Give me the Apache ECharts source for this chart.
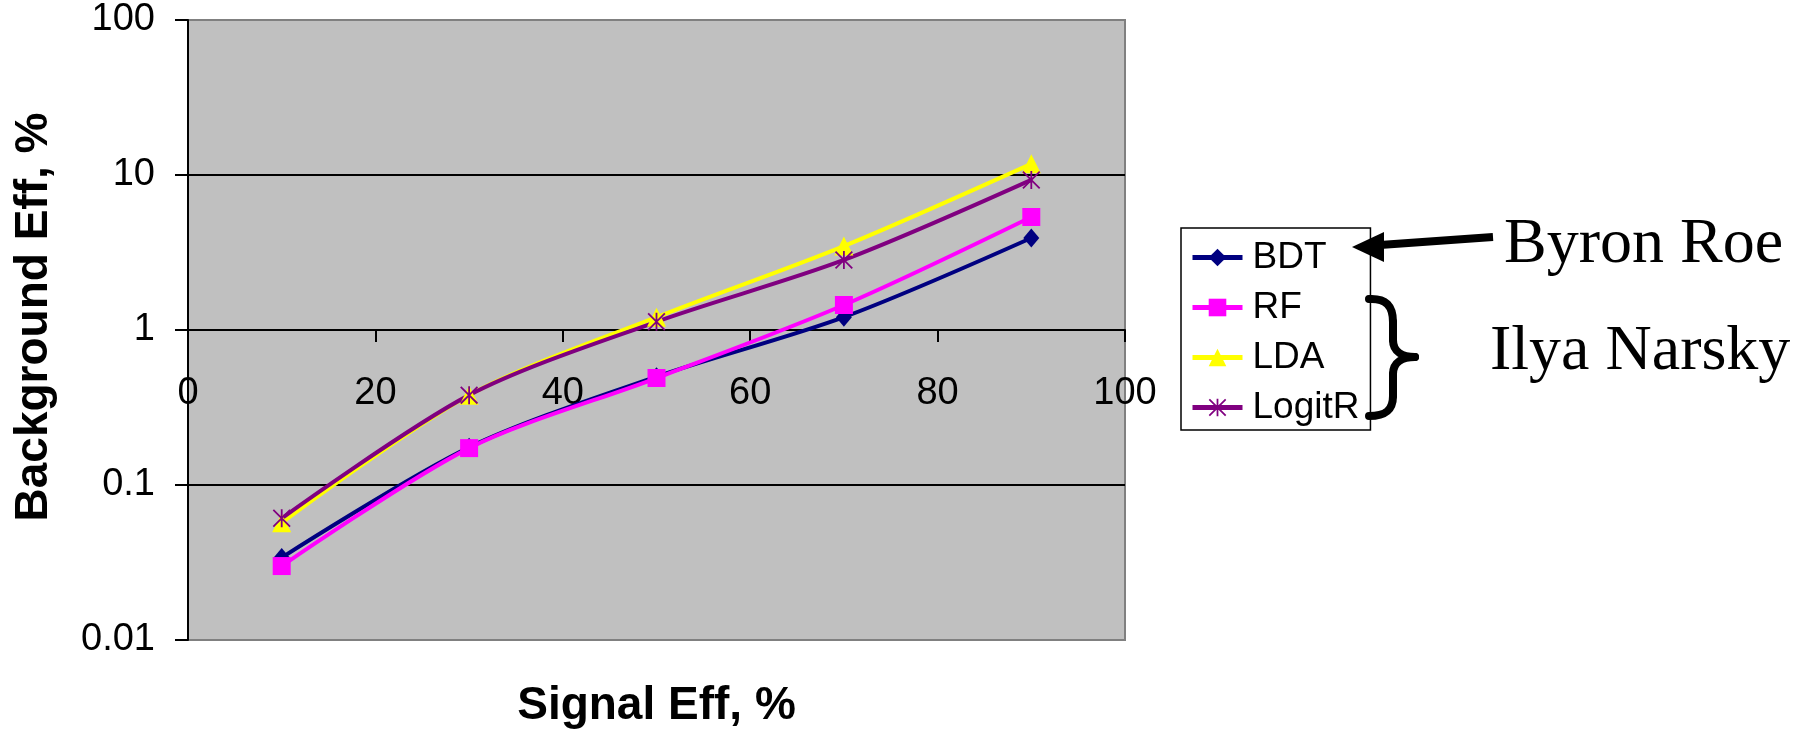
<!DOCTYPE html>
<html>
<head>
<meta charset="utf-8">
<script src="https://cdn.jsdelivr.net/npm/echarts@6/dist/echarts.min.js"></script>
<style>
  html, body { margin: 0; padding: 0; background: #fff; }
  #chart { width: 1814px; height: 736px; }
</style>
</head>
<body>
<div id="chart"></div>
<script>
// Signal efficiency (%) at which each classifier was evaluated
const signalEff = [10, 30, 50, 70, 90];

// Background efficiency (%) per classifier
const bdt    = [0.034, 0.175, 0.50, 1.21, 3.92];
const rf     = [0.030, 0.173, 0.49, 1.45, 5.36];
const lda    = [0.057, 0.38, 1.21, 3.48, 11.8];
const logitR = [0.061, 0.38, 1.13, 2.83, 9.3];

const seriesNames = ['BDT', 'RF', 'LDA', 'LogitR'];
const xTickLabels = ['0', '20', '40', '60', '80', '100'];
const yTickLabels = ['0.01', '0.1', '1', '10', '100'];

const SANS = '"Liberation Sans", Arial, sans-serif';
const SERIF = '"Liberation Serif", "Times New Roman", serif';

// plot frame
const gridLeft = 188, gridTop = 20, gridRight = 689, gridBottom = 96;
const plotH = 736 - gridTop - gridBottom;
const yMin = 0.01, yMax = 100, xCross = 1;
// the horizontal axis crosses the log axis at 1
const xAxisOffset = -plotH * (Math.log10(xCross) - Math.log10(yMin)) /
                    (Math.log10(yMax) - Math.log10(yMin));

// Excel-style asterisk marker: vertical bar plus two diagonals
const asterisk = 'path://M45 0L55 0L55 100L45 100Z M0 7L7 0L100 93L93 100Z M93 0L100 7L7 100L0 93Z';

function pts(vals) {
  return signalEff.map((x, i) => [x, vals[i]]);
}

function lineSeries(name, vals, color, symbol, size) {
  return {
    name: name,
    type: 'line',
    data: pts(vals),
    smooth: 0.3,
    symbol: symbol,
    symbolSize: size,
    showAllSymbol: true,
    lineStyle: { color: color, width: 4 },
    itemStyle: { color: color, opacity: 1 },
    emphasis: { disabled: true },
    z: 3
  };
}

const chart = echarts.init(document.getElementById('chart'), null, { renderer: 'canvas' });

chart.setOption({
  animation: false,
  backgroundColor: '#fff',
  grid: {
    left: gridLeft, top: gridTop, right: gridRight, bottom: gridBottom,
    show: true,
    backgroundColor: '#c0c0c0',
    borderColor: '#808080',
    borderWidth: 2,
    containLabel: false,
    outerBoundsMode: 'none'
  },
  xAxis: {
    type: 'value',
    min: 0, max: 100, interval: 20,
    position: 'bottom',
    offset: xAxisOffset,
    axisLine: { show: true, onZero: false, lineStyle: { color: '#000', width: 2 } },
    axisTick: { show: true, length: 12, lineStyle: { color: '#000', width: 2 } },
    axisLabel: {
      show: true, margin: 45, fontSize: 38, fontFamily: SANS, color: '#000',
      showMinLabel: true, showMaxLabel: true,
      formatter: v => xTickLabels[Math.round(v / 20)]
    },
    splitLine: { show: false },
    name: 'Signal Eff, %',
    nameLocation: 'middle',
    nameGap: 353,
    nameTextStyle: { fontSize: 46, fontWeight: 'bold', fontFamily: SANS, color: '#000' }
  },
  yAxis: {
    type: 'log',
    logBase: 10,
    min: yMin, max: yMax,
    axisLine: { show: true, lineStyle: { color: '#000', width: 2 } },
    axisTick: { show: true, length: 13, lineStyle: { color: '#000', width: 2 } },
    axisLabel: {
      show: true, margin: 33, fontSize: 38, fontFamily: SANS, color: '#000',
      showMinLabel: true, showMaxLabel: true,
      formatter: v => yTickLabels[Math.round(Math.log10(v)) + 2]
    },
    splitLine: {
      show: true, showMinLine: false, showMaxLine: false,
      lineStyle: { color: '#000', width: 2 }
    },
    name: 'Background Eff, %',
    nameLocation: 'middle',
    nameGap: 131,
    nameRotate: 90,
    nameTextStyle: {
      fontSize: 46, fontWeight: 'bold', fontFamily: SANS, color: '#000',
      padding: [0, 0, 0, 26]
    }
  },
  legend: {
    show: true,
    orient: 'vertical',
    left: 1181, top: 228,
    padding: [11, 11, 4, 9],
    itemGap: 13,
    itemWidth: 50,
    itemHeight: 22,
    borderColor: '#000',
    borderWidth: 1.5,
    backgroundColor: '#fff',
    selectedMode: false,
    lineStyle: { width: 5 },
    textStyle: { fontSize: 37, fontFamily: SANS, color: '#000', padding: [0, 0, 0, 5] },
    data: seriesNames
  },
  series: [
    lineSeries(seriesNames[0], bdt, '#000080', 'diamond', [16, 19]),
    lineSeries(seriesNames[1], rf, '#ff00ff', 'rect', 18),
    lineSeries(seriesNames[2], lda, '#ffff00', 'triangle', 19),
    lineSeries(seriesNames[3], logitR, '#800080', asterisk, 18)
  ],
  graphic: [
    // author labels
    { type: 'text', z: 10, style: { text: 'Byron Roe', x: 1504, y: 245, font: '64px ' + SERIF, fill: '#000', align: 'left', verticalAlign: 'middle' } },
    { type: 'text', z: 10, style: { text: 'Ilya Narsky', x: 1490, y: 352, font: '64px ' + SERIF, fill: '#000', align: 'left', verticalAlign: 'middle' } },
    // arrow pointing at the BDT entry
    { type: 'line', z: 10, shape: { x1: 1493, y1: 237, x2: 1380, y2: 245 }, style: { stroke: '#000', lineWidth: 8 } },
    { type: 'polygon', z: 10, shape: { points: [[1352, 247], [1384, 232], [1384, 262]] }, style: { fill: '#000' } },
    // curly brace grouping RF, LDA and LogitR
    { type: 'bezierCurve', z: 10, shape: { x1: 1369, y1: 299, cpx1: 1386, cpy1: 298, cpx2: 1393, cpy2: 306, x2: 1393, y2: 322 }, style: { stroke: '#000', lineWidth: 8, fill: null, lineCap: 'round' } },
    { type: 'line', z: 10, shape: { x1: 1393, y1: 322, x2: 1393, y2: 340 }, style: { stroke: '#000', lineWidth: 8, lineCap: 'round' } },
    { type: 'bezierCurve', z: 10, shape: { x1: 1393, y1: 340, cpx1: 1393, cpy1: 352, cpx2: 1403, cpy2: 357, x2: 1415, y2: 357 }, style: { stroke: '#000', lineWidth: 8, fill: null, lineCap: 'round' } },
    { type: 'bezierCurve', z: 10, shape: { x1: 1415, y1: 357, cpx1: 1403, cpy1: 357, cpx2: 1393, cpy2: 362, x2: 1393, y2: 374 }, style: { stroke: '#000', lineWidth: 8, fill: null, lineCap: 'round' } },
    { type: 'line', z: 10, shape: { x1: 1393, y1: 374, x2: 1393, y2: 396 }, style: { stroke: '#000', lineWidth: 8, lineCap: 'round' } },
    { type: 'bezierCurve', z: 10, shape: { x1: 1393, y1: 396, cpx1: 1393, cpy1: 410, cpx2: 1386, cpy2: 416, x2: 1369, y2: 416 }, style: { stroke: '#000', lineWidth: 8, fill: null, lineCap: 'round' } }
  ]
});
</script>
</body>
</html>
